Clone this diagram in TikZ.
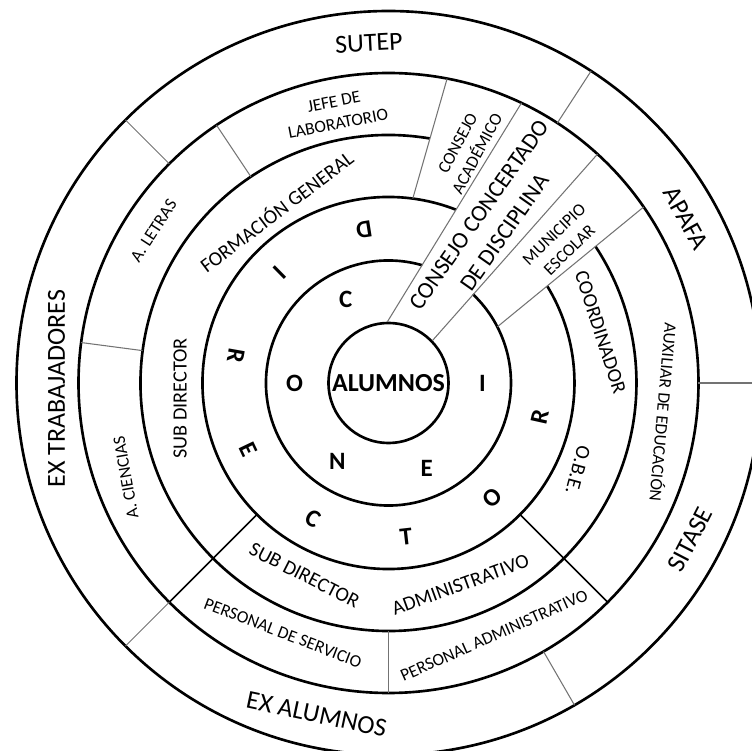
\documentclass[tikz,border=0pt]{standalone}
\usepackage{fontspec}
\setmainfont{Carlito}

\begin{document}
\begin{tikzpicture}[x=0.02cm, y=0.02cm,
    ring/.style={line width=1.5pt, black},
    divider/.style={line width=0.9pt, black},
    thinline/.style={line width=0.6pt, black!55},
    outerlbl/.style={inner sep=0pt, font=\fontsize{14.8}{17}\selectfont},
    midlbl/.style={inner sep=0pt, font=\fontsize{11.5}{13.8}\selectfont},
    smalllbl/.style={inner sep=0pt, align=center, font=\fontsize{9.9}{12.6}\selectfont},
    bigwedge/.style={inner sep=0pt, align=center, font=\fontsize{13.3}{17.8}\selectfont},
    letter/.style={inner sep=0pt, font=\fontsize{14.2}{16}\selectfont\bfseries}
  ]
    \useasboundingbox (-388.5,-368) rectangle (363.5,383);
    \clip (-388.5,-368) rectangle (363.5,383);

    % Full circles
    \node[draw, circle, ring, minimum size=2.4cm, inner sep=0pt,
      font=\fontsize{14.8}{17}\selectfont\bfseries] (alumnos) at (0,0) {ALUMNOS};
    \draw[ring] (0,0) circle (310);
    \draw[ring] (0,0) circle (372);

    % Broken circles
    \draw[ring] (74:122.5) arc[start angle=74, end angle=406.45, radius=122.5];
    \draw[ring] (68.7:186) arc[start angle=68.7, end angle=391.45, radius=186];
    \draw[ring] (80.4:248) arc[start angle=80.4, end angle=393.45, radius=248];

    % Wedge lines
    \draw[thinline] (alumnos.91) -- (64.6:310);
    \draw[thinline] (alumnos.44) -- (47.6:310);
    \draw[thinline] (82.5:186) -- (79.1:310);
    \draw[thinline] (27.3:122.5) -- (34.6:310);

    % Dividers
    \foreach \a in {225,-45} \draw[divider] (\a:186) -- (\a:310);
    \foreach \a in {123.7,172.5,270} \draw[thinline] (\a:248) -- (\a:310);
    \foreach \a in {135,57,0,-60,225} \draw[thinline] (\a:310) -- (\a:372);

    % Outer ring
    \node[outerlbl, rotate=3] (sutep) at (93.3:340.6) {SUTEP};
    \node[outerlbl, rotate=-61] (apafa) at (29:340) {APAFA};
    \node[outerlbl, rotate=62.6] (sitase) at (-27.4:340) {SITASE};
    \node[outerlbl, rotate=-12] (exalumnos) at (257.75:339) {EX ALUMNOS};
    \node[outerlbl, rotate=90] (extrab) at (181:332) {EX TRABAJADORES};

    % Fourth ring
    \node[smalllbl, rotate=11] (jefe) at (101:275.4) {JEFE DE\\LABORATORIO};
    \node[smalllbl, rotate=57] (letras) at (147:280) {A. LETRAS};
    \node[smalllbl, rotate=100] (ciencias) at (199.8:279) {A. CIENCIAS};
    \node[smalllbl, rotate=-95] (auxiliar) at (-6.1:277.4) {AUXILIAR DE EDUCACIÓN};
    \node[smalllbl, rotate=-21] (servicio) at (247.1:271.4) {PERSONAL DE SERVICIO};
    \node[smalllbl, rotate=24] (persadm) at (-67.3:273.7) {PERSONAL ADMINISTRATIVO};

    % Third ring
    \node[midlbl, rotate=37] (formacion) at (123.2:205.6) {FORMACIÓN GENERAL};
    \node[midlbl, rotate=90] (subdir) at (184.2:209) {SUB DIRECTOR};
    \node[midlbl, rotate=-72] (coord) at (13.5:218) {COORDINADOR};
    \node[midlbl, rotate=-105] (obe) at (-24.7:208.5) {O.B.E.};
    \node[midlbl, rotate=-27] (subdiradm) at (246.4:210) {SUB DIRECTOR};
    \node[midlbl, rotate=20] (adm) at (289.6:214.4) {ADMINISTRATIVO};

    % Wedges
    \node[smalllbl, rotate=62] (academico) at (71.4:247.6) {CONSEJO\\ACADÉMICO};
    \node[bigwedge, rotate=55] (disciplina) at (57.1:190) {CONSEJO CONCERTADO\\DE DISCIPLINA};
    \node[smalllbl, rotate=44] (municipio) at (39.1:223.3) {MUNICIPIO\\ESCOLAR};

    % Letters
    \foreach \l [count=\i from 0] in {D,I,R,E,C,T,O,R}
      \node[letter, rotate={99+35.5*\i+90}] (dir\i) at ({99+35.5*\i}:155) {\l};
    \foreach \l/\a [count=\i] in {C/117,O/180,N/237,E/294,I/0}
      \node[letter] (conei\i) at (\a:94) {\l};
\end{tikzpicture}
\end{document}
